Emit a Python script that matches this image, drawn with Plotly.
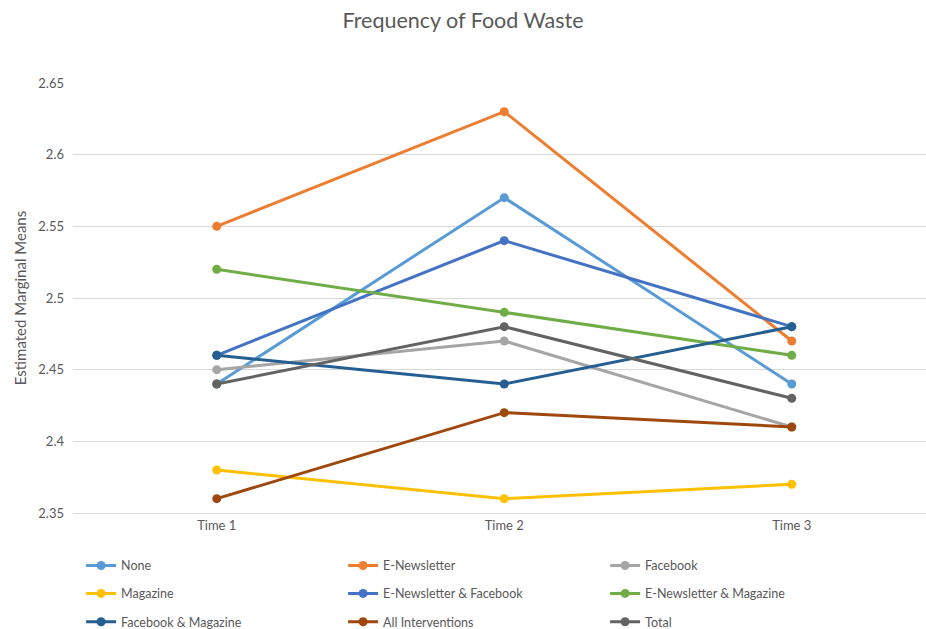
import plotly.graph_objects as go

times = ["Time 1", "Time 2", "Time 3"]
series_names = ["None", "E-Newsletter", "Facebook",
                "Magazine", "E-Newsletter & Facebook", "E-Newsletter & Magazine",
                "Facebook & Magazine", "All Interventions", "Total"]
none_vals = [2.44, 2.57, 2.44]
enews_vals = [2.55, 2.63, 2.47]
facebook_vals = [2.45, 2.47, 2.41]
magazine_vals = [2.38, 2.36, 2.37]
enews_fb_vals = [2.46, 2.54, 2.48]
enews_mag_vals = [2.52, 2.49, 2.46]
fb_mag_vals = [2.46, 2.44, 2.48]
all_vals = [2.36, 2.42, 2.41]
total_vals = [2.44, 2.48, 2.43]
values = [none_vals, enews_vals, facebook_vals, magazine_vals, enews_fb_vals,
          enews_mag_vals, fb_mag_vals, all_vals, total_vals]
colors = ["#5B9BD5", "#ED7D31", "#A5A5A5", "#FFC000", "#4472C4", "#70AD47",
          "#255E91", "#9E480E", "#636363"]
y_ticks = [2.35, 2.4, 2.45, 2.5, 2.55, 2.6, 2.65]
y_tick_labels = ["2.35", "2.4", "2.45", "2.5", "2.55", "2.6", "2.65"]

FONT = "Lato"
fig = go.Figure()
legends = ["legend", "legend2", "legend3"]
for i, (name, vals, col) in enumerate(zip(series_names, values, colors)):
    fig.add_trace(go.Scatter(
        x=[0, 1, 2], y=vals, name=name, mode="lines+markers",
        line=dict(color=col, width=3), marker=dict(color=col, size=9),
        legend=legends[i // 3]))

leg_common = dict(orientation="h", x=0.0095, xanchor="left", yanchor="top",
                  entrywidth=217, entrywidthmode="pixels",
                  font=dict(family=FONT, size=12.5, color="#595959"),
                  bgcolor="rgba(0,0,0,0)", itemwidth=30)

fig.update_layout(
    width=926, height=629,
    margin=dict(l=73, r=0, t=83, b=116, autoexpand=False),
    paper_bgcolor="white", plot_bgcolor="white",
    title=dict(text="Frequency of Food Waste", x=0.5, xanchor="center",
               y=0.968, yanchor="middle",
               font=dict(family=FONT, size=21.5, color="#595959")),
    xaxis=dict(tickmode="array", tickvals=[0, 1, 2], ticktext=times,
               range=[-0.5, 2.467], showgrid=False, zeroline=False,
               showline=True, linecolor="#d9d9d9", linewidth=1,
               ticks="", tickfont=dict(family=FONT, size=13, color="#595959")),
    yaxis=dict(tickmode="array", tickvals=y_ticks, ticktext=y_tick_labels,
               range=[2.35, 2.65], showgrid=True, gridcolor="#d9d9d9",
               gridwidth=1, zeroline=False, ticks="", ticklabelstandoff=8,
               tickfont=dict(family=FONT, size=13, color="#595959"),
               title=dict(text="Estimated Marginal Means", standoff=8,
                          font=dict(family=FONT, size=15, color="#595959"))),
    legend=dict(y=-0.088, **leg_common),
    legend2=dict(y=-0.153, **leg_common),
    legend3=dict(y=-0.219, **leg_common),
)

fig.write_html("out.html")
